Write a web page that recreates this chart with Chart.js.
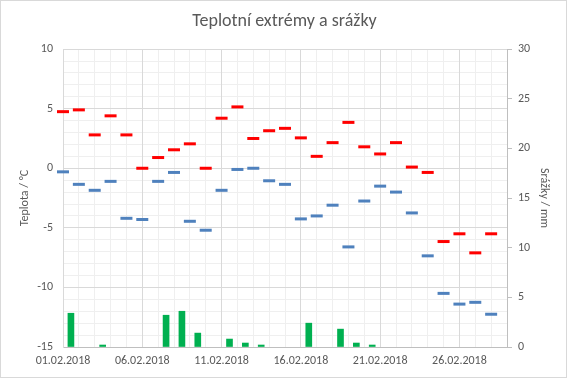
<!DOCTYPE html>
<html>
<head>
<meta charset="utf-8">
<script src="https://cdn.jsdelivr.net/npm/chart.js@4.4.1/dist/chart.umd.min.js"></script>
<style>
  html, body { margin: 0; padding: 0; background: #ffffff; }
  canvas { display: block; }
</style>
</head>
<body>
<canvas id="c" width="567" height="378"></canvas>
<script>
// ---- data ----
const dates = ['01.02.2018','02.02.2018','03.02.2018','04.02.2018','05.02.2018','06.02.2018','07.02.2018',
  '08.02.2018','09.02.2018','10.02.2018','11.02.2018','12.02.2018','13.02.2018','14.02.2018',
  '15.02.2018','16.02.2018','17.02.2018','18.02.2018','19.02.2018','20.02.2018','21.02.2018',
  '22.02.2018','23.02.2018','24.02.2018','25.02.2018','26.02.2018','27.02.2018','28.02.2018'];
const maxTemp = [4.75, 4.9, 2.8, 4.4, 2.8, 0, 0.9, 1.55, 2.05, 0, 4.2, 5.15, 2.5, 3.15,
  3.35, 2.55, 1.0, 2.15, 3.85, 1.8, 1.2, 2.15, 0.1, -0.35, -6.15, -5.5, -7.1, -5.5];
const minTemp = [-0.3, -1.35, -1.85, -1.1, -4.2, -4.3, -1.1, -0.35, -4.45, -5.2, -1.85, -0.1, 0, -1.05,
  -1.35, -4.25, -4.0, -3.1, -6.6, -2.75, -1.5, -2.0, -3.75, -7.35, -10.5, -11.4, -11.25, -12.25];
const precip = [3.4, 0, 0.2, 0, 0, 0, 3.2, 3.6, 1.4, 0, 0.8, 0.4, 0.2, 0,
  0, 2.4, 0, 1.8, 0.4, 0.2, 0, 0, 0, 0, 0, 0, 0, 0];
const xTickDays = [0, 5, 10, 15, 20, 25];
const tempTicks = [-15, -10, -5, 0, 5, 10];
const precipTicks = [0, 5, 10, 15, 20, 25, 30];

const FONT = 'Carlito, Calibri, Lato, "Open Sans", sans-serif';
const TXT = '#595959';

const borderPlugin = {
  id: 'chartBorder',
  afterDraw(chart) {
    const ctx = chart.ctx;
    ctx.save();
    ctx.strokeStyle = '#d9d9d9';
    ctx.lineWidth = 1;
    ctx.strokeRect(0.5, 0.5, chart.width - 1, chart.height - 1);
    ctx.restore();
  }
};

new Chart(document.getElementById('c'), {
  data: {
    datasets: [
      {
        type: 'scatter',
        label: 'Max',
        data: maxTemp.map((v, i) => ({ x: i, y: v })),
        xAxisID: 'x', yAxisID: 'y', clip: false,
        pointStyle: 'line', pointRadius: 6, pointHoverRadius: 6,
        borderColor: '#ff0000', backgroundColor: '#ff0000', pointBorderWidth: 3
      },
      {
        type: 'scatter',
        label: 'Min',
        data: minTemp.map((v, i) => ({ x: i, y: v })),
        xAxisID: 'x', yAxisID: 'y', clip: false,
        pointStyle: 'line', pointRadius: 6, pointHoverRadius: 6,
        borderColor: '#4f81bd', backgroundColor: '#4f81bd', pointBorderWidth: 3
      },
      {
        type: 'bar',
        label: 'Srážky',
        data: precip.map((v, i) => ({ x: i + 0.5, y: v > 0 ? v : null })),
        xAxisID: 'x', yAxisID: 'y2',
        backgroundColor: '#00b050', borderWidth: 0,
        barThickness: 6, grouped: false
      }
    ]
  },
  options: {
    responsive: false,
    animation: false,
    devicePixelRatio: 1,
    layout: { padding: { left: 14, right: 12, top: 0, bottom: 0 } },
    plugins: {
      legend: { display: false },
      tooltip: { enabled: false },
      title: {
        display: true,
        text: 'Teplotní extrémy a srážky',
        color: TXT,
        font: { family: FONT, size: 18, weight: 'normal' },
        padding: { top: 11, bottom: 16.5 }
      }
    },
    scales: {
      xMinor: {
        type: 'linear', position: 'bottom', min: 0, max: 28, offset: false,
        ticks: { display: false, stepSize: 1 },
        grid: { color: '#efefef', drawTicks: false, z: -2, offset: false },
        border: { display: false },
        afterFit(s) { s.height = 0; }
      },
      yMinor: {
        type: 'linear', position: 'left', min: -15, max: 10,
        ticks: { display: false, stepSize: 1 },
        grid: { color: '#efefef', drawTicks: false, z: -2 },
        border: { display: false },
        afterFit(s) { s.width = 0; }
      },
      x: {
        type: 'linear', position: 'bottom', min: 0, max: 28, offset: false,
        afterBuildTicks(s) { s.ticks = xTickDays.map(v => ({ value: v })); },
        ticks: {
          autoSkip: false, maxRotation: 0, padding: 7, color: TXT,
          font: { family: FONT, size: 12 },
          callback: (v) => dates[v]
        },
        grid: { color: '#d9d9d9', drawTicks: false, offset: false },
        border: { color: '#bfbfbf' },
        afterFit(s) { s.height = 31; }
      },
      y: {
        type: 'linear', position: 'left', min: -15, max: 10,
        afterBuildTicks(s) { s.ticks = tempTicks.map(v => ({ value: v })); },
        ticks: { padding: 10, color: TXT, font: { family: FONT, size: 12 } },
        grid: { color: '#d9d9d9', drawTicks: false },
        border: { color: '#d9d9d9' },
        title: { display: true, text: 'Teplota / °C', color: TXT, font: { family: FONT, size: 12 } },
        afterFit(s) { s.width = 49; }
      },
      y2: {
        type: 'linear', position: 'right', min: 0, max: 30,
        afterBuildTicks(s) { s.ticks = precipTicks.map(v => ({ value: v })); },
        ticks: { padding: 6, color: TXT, font: { family: FONT, size: 12 } },
        grid: { drawOnChartArea: false, color: '#bfbfbf', tickLength: 5 },
        border: { color: '#bfbfbf' },
        title: { display: true, text: 'Srážky / mm', color: TXT, font: { family: FONT, size: 12 } },
        afterFit(s) { s.width = 48; }
      }
    }
  },
  plugins: [borderPlugin]
});
</script>
</body>
</html>
